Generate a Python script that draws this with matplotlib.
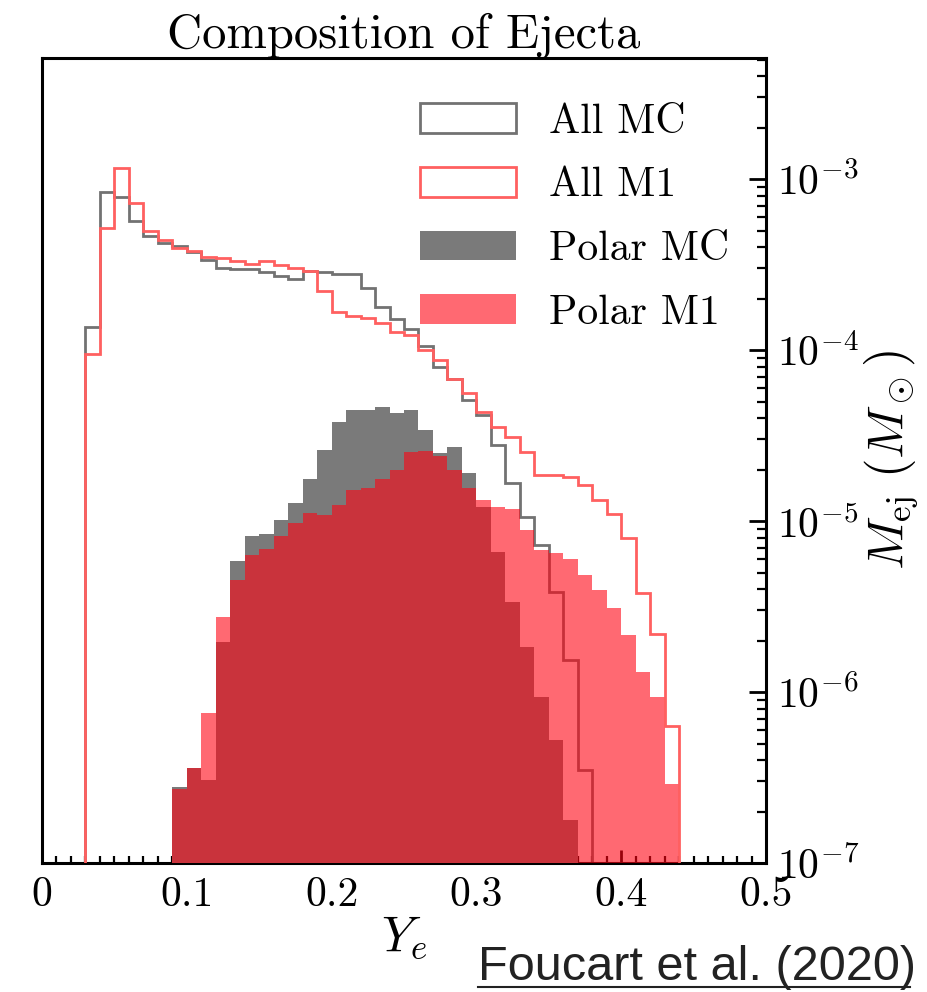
import numpy as np
import matplotlib
matplotlib.use("Agg")
import matplotlib.pyplot as plt
from matplotlib.patches import Patch
from matplotlib.ticker import FixedLocator, FixedFormatter, LogLocator, NullFormatter, MultipleLocator

plt.rcParams['font.family'] = 'serif'
plt.rcParams['font.serif'] = ['cmr10']
plt.rcParams['mathtext.fontset'] = 'cm'
plt.rcParams['axes.formatter.use_mathtext'] = True

# ---- data (bin width 0.01) ----
mc_all_start = 0.03
mc_all = [1.37e-4, 8.4e-4, 7.8e-4, 5.7e-4, 4.65e-4, 4.25e-4, 4.05e-4, 3.76e-4, 3.36e-4, 3.0e-4,
          2.96e-4, 2.96e-4, 2.87e-4, 2.71e-4, 2.59e-4, 2.91e-4, 2.87e-4, 2.8e-4, 2.8e-4, 2.32e-4,
          1.78e-4, 1.51e-4, 1.32e-4, 1.05e-4, 7.98e-5, 6.8e-5, 5.1e-5, 4.17e-5, 2.78e-5, 1.66e-5,
          1.06e-5, 7.2e-6, 3.85e-6, 1.54e-6, 3.5e-7]
m1_all_start = 0.03
m1_all = [9.5e-5, 5.2e-4, 1.16e-3, 7.2e-4, 4.96e-4, 4.4e-4, 3.93e-4, 3.8e-4, 3.5e-4, 3.44e-4,
          3.3e-4, 3.2e-4, 3.3e-4, 3.15e-4, 3.0e-4, 2.91e-4, 2.22e-4, 1.67e-4, 1.58e-4, 1.53e-4,
          1.43e-4, 1.28e-4, 1.22e-4, 1.0e-4, 8.7e-5, 6.8e-5, 5.57e-5, 4.35e-5, 3.56e-5, 3.11e-5,
          2.54e-5, 1.85e-5, 1.85e-5, 1.82e-5, 1.62e-5, 1.33e-5, 1.1e-5, 8.0e-6, 3.8e-6, 2.18e-6,
          6.3e-7]
mc_polar_start = 0.09
mc_polar = [2.8e-7, 3.6e-7, 3.06e-7, 1.97e-6, 5.83e-6, 8.18e-6, 8.45e-6, 1.01e-5, 1.28e-5, 1.75e-5,
            2.6e-5, 3.78e-5, 4.46e-5, 4.46e-5, 4.66e-5, 4.3e-5, 4.46e-5, 3.4e-5, 2.49e-5, 2.72e-5,
            1.9e-5, 1.21e-5, 6.6e-6, 3.37e-6, 1.84e-6, 9.4e-7, 5.25e-7, 1.78e-7]
m1_polar_start = 0.09
m1_polar = [2.7e-7, 3.6e-7, 7.5e-7, 2.73e-6, 4.52e-6, 6.33e-6, 6.86e-6, 8.2e-6, 9.7e-6, 1.12e-5,
            1.08e-5, 1.24e-5, 1.52e-5, 1.57e-5, 1.75e-5, 2.0e-5, 2.54e-5, 2.57e-5, 2.4e-5, 2.0e-5,
            1.56e-5, 1.33e-5, 1.21e-5, 1.17e-5, 8.85e-6, 6.76e-6, 6.5e-6, 6.0e-6, 4.83e-6, 3.95e-6,
            3.09e-6, 2.15e-6, 1.31e-6, 9.4e-7, 2.9e-7]
bin_width = 0.01

labels = ["All MC", "All M1", "Polar MC", "Polar M1"]
xtick_vals = [0, 0.1, 0.2, 0.3, 0.4, 0.5]
xtick_labels = ["0", "0.1", "0.2", "0.3", "0.4", "0.5"]
ytick_vals = [1e-7, 1e-6, 1e-5, 1e-4, 1e-3]
ytick_labels = [r"$10^{-7}$", r"$10^{-6}$", r"$10^{-5}$", r"$10^{-4}$", r"$10^{-3}$"]


def edges(start, vals):
    return np.round(start + bin_width * np.arange(len(vals) + 1), 4)


c_mc_line = '#727272'
c_m1_line = '#ff6060'
c_mc_fill = '#7a7a7a'
c_m1_fill = (1.0, 0.02, 0.08, 0.6)

fig = plt.figure(figsize=(9.27, 9.92), dpi=100)
ax = fig.add_axes([0.0453, 0.130, 0.781, 0.8115])
ax.set_yscale('log')

base = 1e-9
ax.stairs(mc_all, edges(mc_all_start, mc_all), baseline=base, fill=False,
          color=c_mc_line, lw=2.0, zorder=2)
ax.stairs(mc_polar, edges(mc_polar_start, mc_polar), baseline=base, fill=True,
          color=c_mc_fill, lw=0, zorder=3)
ax.stairs(m1_polar, edges(m1_polar_start, m1_polar), baseline=base, fill=True,
          facecolor=c_m1_fill, edgecolor='none', lw=0, zorder=4)
ax.stairs(m1_all, edges(m1_all_start, m1_all), baseline=base, fill=False,
          color=c_m1_line, lw=2.0, zorder=5)

ax.set_xlim(0, 0.5)
ax.set_ylim(1e-7, 5.1e-3)

# ticks
ax.xaxis.set_major_locator(FixedLocator(xtick_vals))
ax.xaxis.set_major_formatter(FixedFormatter(xtick_labels))
ax.xaxis.set_minor_locator(MultipleLocator(0.01))
ax.yaxis.tick_right()
ax.yaxis.set_label_position('right')
ax.yaxis.set_major_locator(FixedLocator(ytick_vals))
ax.yaxis.set_major_formatter(FixedFormatter(ytick_labels))
ax.yaxis.set_minor_locator(LogLocator(base=10, subs=np.arange(2, 10), numticks=20))
ax.yaxis.set_minor_formatter(NullFormatter())

ax.tick_params(axis='x', which='major', direction='in', length=9.5, width=2.0,
               labelsize=30, pad=10, bottom=True, top=False)
ax.tick_params(axis='x', which='minor', direction='in', length=5, width=1.6,
               bottom=True, top=False)
ax.tick_params(axis='y', which='major', direction='in', length=12, width=2.0,
               labelsize=30, pad=8, right=True, left=False)
ax.tick_params(axis='y', which='minor', direction='in', length=6.5, width=1.6,
               right=True, left=False)
for s in ax.spines.values():
    s.set_linewidth(2.2)

ax.set_title("Composition of Ejecta", fontsize=35, pad=6)
ax.set_xlabel(r"$Y_e$", fontsize=36, labelpad=0)
ax.set_ylabel(r"$M_{\rm ej}\ (M_\odot)$", fontsize=36, rotation=90, labelpad=2)

handles = [Patch(facecolor='none', edgecolor=c_mc_line, lw=2.0),
           Patch(facecolor='none', edgecolor=c_m1_line, lw=2.0),
           Patch(facecolor=c_mc_fill, edgecolor='none'),
           Patch(facecolor=c_m1_fill, edgecolor='none')]
ax.legend(handles, labels, loc='upper left', bbox_to_anchor=(0.522, 0.944),
          frameon=False, fontsize=30, handlelength=2.3, handleheight=0.72,
          handletextpad=0.8, labelspacing=0.63, borderpad=0, borderaxespad=0)

fig.text(478 / 927, 1 - 980 / 992, "Foucart et al. (2020)", fontsize=35,
         family=['Liberation Sans', 'DejaVu Sans'], color='#222222',
         ha='left', va='baseline')
fig.add_artist(plt.Line2D([478 / 927, 910 / 927], [1 - 987 / 992, 1 - 987 / 992],
                          color='#222222', lw=1.5))

fig.savefig("out.png", dpi=100)
